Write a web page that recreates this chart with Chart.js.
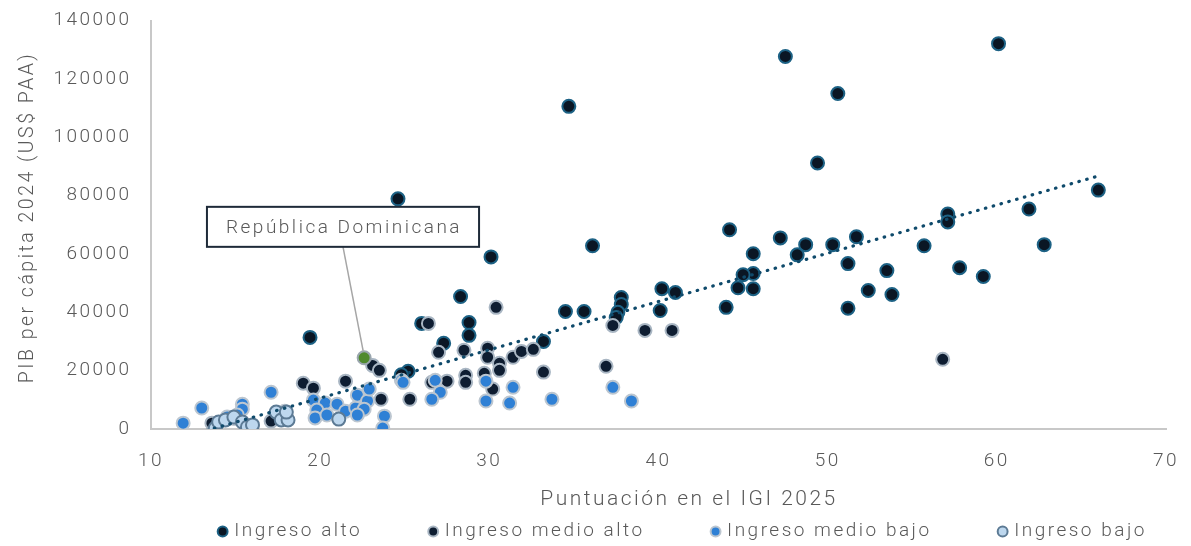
<!DOCTYPE html>
<html>
<head>
<meta charset="utf-8">
<script src="https://cdn.jsdelivr.net/npm/chart.js@4.4.1/dist/chart.umd.min.js"></script>
<style>
    html, body { margin: 0; padding: 0; background: #fff; }
    #wrap { width: 1191px; height: 546px; }
</style>
</head>
<body>
<div id="wrap"><canvas id="chart" width="1191" height="546"></canvas></div>
<script>
var seriesNames = ['Ingreso alto', 'Ingreso medio alto', 'Ingreso medio bajo', 'Ingreso bajo'];
var xTicks = [10, 20, 30, 40, 50, 60, 70];
var yTicks = [0, 20000, 40000, 60000, 80000, 100000, 120000, 140000];
var xTitle = 'Puntuación en el IGI 2025';
var yTitle = 'PIB per cápita 2024 (US$ PAA)';

// Puntuación IGI (x) y PIB per cápita (y) por grupo de ingreso
var altoX = [60.1, 47.5, 50.6, 34.7, 49.4, 24.6, 66.0, 57.1, 57.1, 61.9, 62.8, 44.2, 47.2, 48.7, 51.7,
    50.3, 45.6, 48.2, 36.1, 30.1, 55.7, 45.6, 45.0, 57.8, 51.2, 53.5, 59.2, 52.4, 53.8, 45.6,
    44.7, 40.2, 41.0, 40.1, 37.8, 37.8, 37.6, 37.5, 35.6, 34.5, 44.0, 51.2, 28.3, 28.8, 28.8,
    26.0, 19.4, 27.3, 33.2, 25.2, 24.8];
var altoY = [132100, 127700, 115000, 110600, 91200, 78900, 81900, 73700, 71000, 75400, 63200, 68300, 65500, 63200, 65900,
    63200, 60100, 59700, 62800, 59000, 62800, 53300, 52900, 55300, 56700, 54300, 52300, 47500, 46100, 48100,
    48400, 48100, 46800, 40600, 45100, 42700, 40000, 38200, 40300, 40300, 41700, 41400, 45400, 36500, 32100,
    36200, 31400, 29400, 30000, 19800, 18600];

var medioAltoX = [56.8, 36.9, 30.4, 26.4, 37.3, 39.2, 40.8, 33.2, 27.0, 28.5, 29.9, 29.9, 30.6, 30.6, 31.4,
    31.9, 32.6, 27.5, 26.6, 28.6, 28.6, 29.7, 30.2, 25.3, 23.1, 23.5, 19.0, 19.6, 21.5, 23.6,
    17.1, 13.6];
var medioAltoY = [23900, 21500, 41700, 36200, 35500, 33800, 33800, 19500, 26300, 27000, 27700, 24600, 22500, 20100, 24600,
    26600, 27300, 16400, 16000, 18400, 16000, 19100, 13700, 10200, 21800, 20100, 15700, 14000, 16400, 10200,
    2700, 2000];

var medioBajoX = [11.9, 13.0, 15.4, 15.4, 17.1, 14.5, 14.9, 15.1, 17.9, 19.6, 20.3, 19.8, 19.7, 20.4, 21.0,
    21.5, 22.1, 22.2, 22.8, 22.9, 22.6, 22.2, 23.8, 23.7, 24.8, 24.9, 26.8, 27.1, 26.6, 29.8,
    29.8, 31.4, 31.2, 33.7, 37.3, 38.4];
var medioBajoY = [2000, 7200, 8500, 6800, 12600, 4100, 3600, 4800, 6100, 9900, 8900, 6500, 3800, 4800, 8500,
    6100, 7200, 11600, 9600, 13700, 6800, 4800, 4400, 300, 16700, 16000, 16700, 12600, 10200, 16400,
    9600, 14300, 8900, 10200, 14300, 9600];

var bajoX = [13.8, 14.0, 14.4, 14.9, 15.4, 15.7, 16.0, 17.4, 17.7, 18.1, 18.0, 21.1];
var bajoY = [300, 2400, 3100, 4100, 2400, 700, 1400, 5800, 3100, 3100, 5800, 3400];

var rdX = [22.6];
var rdY = [24400];
var calloutText = 'República Dominicana';
var calloutX = 21.35;
var calloutY = 69300;

// línea de tendencia lineal
var trendSlope = 1655;
var trendIntercept = -22500;

var textColor = '#595959';
var fontFamily = 'Roboto, "Noto Sans", sans-serif';
var letterSpacing = '2.5px';

function toPoints(xs, ys){
    var pts = [];
    for( var i = 0; i < xs.length; i++ ){
        pts.push({ x: xs[i], y: ys[i] });
    }
    return pts;
}

function trendPoints(){
    var all = altoX.concat(medioAltoX, medioBajoX, bajoX);
    var minX = Math.min.apply(null, all);
    var maxX = Math.max.apply(null, all);
    return [
        { x: minX, y: trendIntercept + trendSlope * minX },
        { x: maxX, y: trendIntercept + trendSlope * maxX }
    ];
}

function pointSet(label, data, fill, border, order){
    return {
        label: label,
        data: data,
        backgroundColor: fill,
        borderColor: border,
        borderWidth: 2,
        pointRadius: 6.5,
        pointHoverRadius: 6.5,
        pointStyle: 'circle',
        order: order
    };
}

function pad(n){
    return new Array(n + 1).join(' ');
}

// the source text is set wide, so space the letters out a bit
var spacingPlugin = {
    id: 'spacing',
    beforeUpdate: function(chart){ chart.ctx.letterSpacing = letterSpacing; },
    beforeLayout: function(chart){ chart.ctx.letterSpacing = letterSpacing; },
    beforeDraw: function(chart){ chart.ctx.letterSpacing = letterSpacing; }
};

var calloutPlugin = {
    id: 'callout',
    afterDatasetsDraw: function(chart){
        var ctx = chart.ctx;
        var xs = chart.scales.x, ys = chart.scales.y;
        var px = xs.getPixelForValue(rdX[0]), py = ys.getPixelForValue(rdY[0]);
        var bx = xs.getPixelForValue(calloutX), by = ys.getPixelForValue(calloutY);

        ctx.save();
        ctx.font = '300 19px ' + fontFamily;
        var w = ctx.measureText(calloutText).width + 36;
        var h = 40;

        ctx.strokeStyle = '#a6a6a6';
        ctx.lineWidth = 1.5;
        ctx.beginPath();
        ctx.moveTo(bx, by + h / 2);
        ctx.lineTo(px - 1, py - 7);
        ctx.stroke();

        ctx.fillStyle = '#ffffff';
        ctx.fillRect(bx - w / 2, by - h / 2, w, h);
        ctx.strokeStyle = '#1e2a38';
        ctx.lineWidth = 2;
        ctx.strokeRect(bx - w / 2, by - h / 2, w, h);

        ctx.fillStyle = textColor;
        ctx.textAlign = 'center';
        ctx.textBaseline = 'middle';
        ctx.fillText(calloutText, bx + 1, by + 1);
        ctx.restore();
    }
};

var datasets = [
    pointSet(seriesNames[0], toPoints(altoX, altoY), '#0a1624', '#1d6285', 6),
    pointSet(seriesNames[1], toPoints(medioAltoX, medioAltoY), '#0e1d31', '#a9b6c3', 5),
    pointSet(seriesNames[2], toPoints(medioBajoX, medioBajoY), '#2f80d5', '#bcc6d0', 4),
    pointSet(seriesNames[3], toPoints(bajoX, bajoY), '#bdd7ee', '#5c7a94', 3),
    pointSet('República Dominicana', toPoints(rdX, rdY), '#4f8a2e', '#9aa6ae', 2),
    {
        type: 'line',
        label: 'Tendencia',
        data: trendPoints(),
        borderColor: '#0f4a6b',
        borderWidth: 3.2,
        borderDash: [0.5, 7.6],
        borderCapStyle: 'round',
        pointRadius: 0,
        fill: false,
        order: 1
    }
];

new Chart(document.getElementById('chart'), {
    type: 'scatter',
    data: { datasets: datasets },
    plugins: [spacingPlugin, calloutPlugin],
    options: {
        responsive: false,
        animation: false,
        layout: { padding: { top: 8, right: 25, left: 0, bottom: -5 } },
        plugins: {
            tooltip: { enabled: false },
            legend: {
                position: 'bottom',
                align: 'end',
                labels: {
                    usePointStyle: true,
                    boxWidth: 4,
                    boxHeight: 7,
                    padding: 12,
                    color: textColor,
                    font: { family: fontFamily, size: 19, weight: '300' },
                    filter: function(item){ return item.datasetIndex < 4; },
                    sort: function(a, b){ return a.datasetIndex - b.datasetIndex; },
                    generateLabels: function(chart){
                        var items = Chart.defaults.plugins.legend.labels.generateLabels(chart);
                        items.forEach(function(item){
                            // extra room between legend entries
                            item.text = item.text + pad(item.datasetIndex < 3 ? 8 : 1);
                        });
                        return items;
                    }
                }
            }
        },
        scales: {
            x: {
                type: 'linear',
                min: 10,
                max: 70,
                afterBuildTicks: function(scale){
                    scale.ticks = xTicks.map(function(v){ return { value: v }; });
                },
                afterFit: function(scale){ scale.height = 81; },
                grid: { display: false, drawTicks: false },
                border: { display: true, color: '#c8c8c8', width: 2 },
                ticks: {
                    padding: 11,
                    color: textColor,
                    font: { family: fontFamily, size: 19, weight: '300', lineHeight: 0.75 },
                    // empty first line pushes the number down without widening the axis
                    callback: function(v){ return ['', v]; }
                },
                title: {
                    display: true,
                    text: pad(8) + xTitle,
                    color: textColor,
                    padding: { top: 0, bottom: 0 },
                    font: { family: fontFamily, size: 21, weight: '300', lineHeight: 1 }
                }
            },
            y: {
                type: 'linear',
                min: 0,
                max: 140000,
                afterBuildTicks: function(scale){
                    scale.ticks = yTicks.map(function(v){ return { value: v }; });
                },
                afterFit: function(scale){ scale.width = 151; },
                grid: { display: false, drawTicks: false },
                border: { display: true, color: '#c8c8c8', width: 2 },
                ticks: {
                    padding: 13,
                    color: textColor,
                    font: { family: fontFamily, size: 19, weight: '300', lineHeight: 0.8 },
                    callback: function(v){ return v + '\u2009'; }
                },
                title: {
                    display: true,
                    text: pad(2) + yTitle,
                    color: textColor,
                    padding: { top: 18, bottom: 0 },
                    font: { family: fontFamily, size: 19.5, weight: '300', lineHeight: 1 }
                }
            }
        }
    }
});
</script>
</body>
</html>
